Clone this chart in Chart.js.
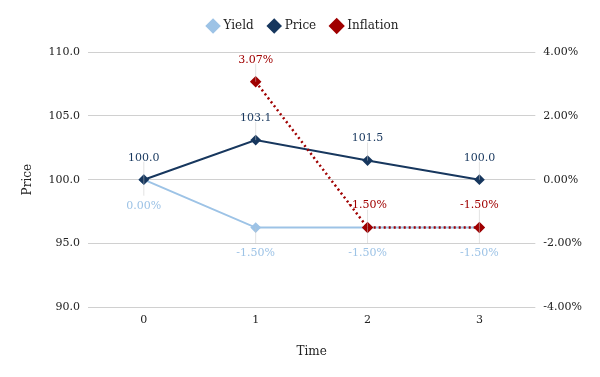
<!DOCTYPE html>
<html>
<head>
<meta charset="utf-8">
<script src="https://cdn.jsdelivr.net/npm/chart.js@4"></script>
<style>
  body { margin: 0; background: #fff; }
  #wrap { width: 600px; height: 377px; }
</style>
</head>
<body>
<div id="wrap"><canvas id="myChart" width="600" height="377"></canvas></div>
<script>
// 데이터
const labels = ["0", "1", "2", "3"];
const yieldData = [0.0, -1.5, -1.5, -1.5];
const priceData = [100.0, 103.1, 101.5, 100.0];
const inflationData = [null, 3.07, -1.5, -1.5];

const FONT = "Georgia, 'DejaVu Serif', serif";

// 포인트 위에 값 표시 (datalabels 대신)
const pointLabels = {
  id: "pointLabels",
  afterDatasetsDraw(chart) {
    const ctx = chart.ctx;
    ctx.save();
    ctx.font = "11px " + FONT;
    ctx.textAlign = "center";
    chart.data.datasets.forEach((ds, i) => {
      const meta = chart.getDatasetMeta(i);
      meta.data.forEach((pt, j) => {
        const v = ds.data[j];
        if (v === null) return;
        const txt = ds.yAxisID === "y1" ? v.toFixed(2) + "%" : v.toFixed(1);
        const below = ds.label === "Yield";
        const ty = below ? pt.y + 26 : pt.y - 22;
        // 얇은 연결선
        ctx.strokeStyle = "rgba(200,200,200,0.5)";
        ctx.lineWidth = 1;
        ctx.beginPath();
        ctx.moveTo(pt.x, pt.y);
        ctx.lineTo(pt.x, below ? ty - 10 : ty + 4);
        ctx.stroke();
        ctx.fillStyle = ds.borderColor;
        ctx.fillText(txt, pt.x, ty);
      });
    });
    ctx.restore();
  },
};

// 범례 아래 여백
const legendGap = {
  id: "legendGap",
  beforeInit(chart) {
    const origFit = chart.legend.fit;
    chart.legend.fit = function () {
      origFit.bind(chart.legend)();
      this.height += 10;
    };
  },
};

const chartData = {
  labels: labels,
  datasets: [
    {
      label: "Yield",
      data: yieldData,
      yAxisID: "y1",
      order: 2,
      borderColor: "#9dc3e6",
      backgroundColor: "#9dc3e6",
      borderWidth: 2,
      pointStyle: "rectRot",
      pointRadius: 4,
      tension: 0,
    },
    {
      label: "Price",
      data: priceData,
      yAxisID: "y",
      order: 1,
      borderColor: "#17375e",
      backgroundColor: "#17375e",
      borderWidth: 2,
      pointStyle: "rectRot",
      pointRadius: 4,
      tension: 0,
    },
    {
      label: "Inflation",
      data: inflationData,
      yAxisID: "y1",
      order: 0,
      borderColor: "#a00000",
      backgroundColor: "#a00000",
      borderWidth: 2.5,
      borderDash: [2, 3],
      pointStyle: "rectRot",
      pointRadius: 4,
      tension: 0,
    },
  ],
};

const chartOptions = {
  responsive: false,
  animation: false,
  layout: { padding: { left: 17, right: 10, top: 4, bottom: 14 } },
  plugins: {
    legend: {
      position: "top",
      labels: {
        usePointStyle: true,
        pointStyle: "rectRot",
        boxWidth: 9,
        boxHeight: 9,
        padding: 16,
        color: "#222",
        font: { family: FONT, size: 12 },
        sort: (a, b) => a.datasetIndex - b.datasetIndex,
      },
    },
    tooltip: { enabled: false },
  },
  scales: {
    x: {
      offset: true,
      grid: { display: false, drawTicks: false },
      border: { display: false },
      ticks: { color: "#222", font: { family: FONT, size: 11 }, padding: 6 },
      title: { display: true, text: "Time", color: "#222", font: { family: FONT, size: 12 }, padding: { top: 12 } },
    },
    y: {
      position: "left",
      min: 90,
      max: 110,
      ticks: {
        stepSize: 5,
        color: "#222",
        font: { family: FONT, size: 11 },
        padding: 8,
        callback: (v) => v.toFixed(1),
      },
      grid: { color: "#d0d0d0", drawTicks: false },
      border: { display: false },
      title: { display: true, text: "Price", color: "#222", font: { family: FONT, size: 12 }, padding: { bottom: 5 } },
    },
    y1: {
      position: "right",
      min: -4,
      max: 4,
      ticks: {
        stepSize: 2,
        color: "#222",
        font: { family: FONT, size: 11 },
        padding: 8,
        callback: (v) => v.toFixed(2) + "%",
      },
      grid: { display: false, drawTicks: false },
      border: { display: false },
    },
  },
};

const ctx = document.getElementById("myChart").getContext("2d");
const myChart = new Chart(ctx, {
  type: "line",
  data: chartData,
  options: chartOptions,
  plugins: [pointLabels, legendGap],
});
</script>
</body>
</html>
